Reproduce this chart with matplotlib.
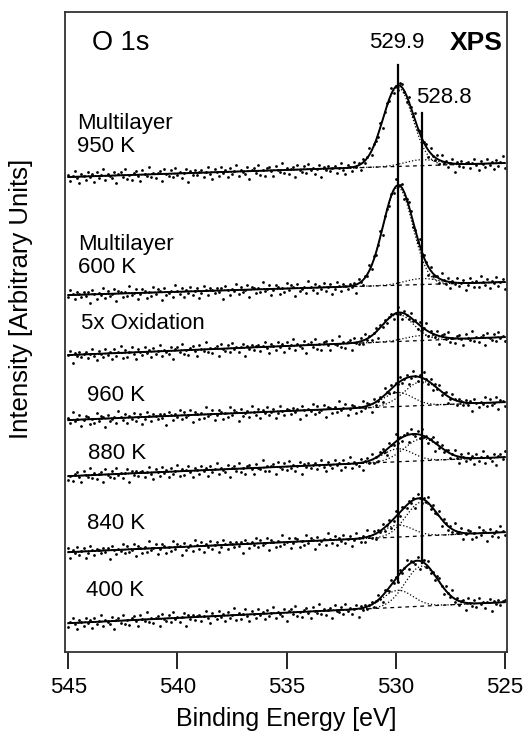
import numpy as np
import matplotlib.pyplot as plt

plt.rcParams['font.family'] = ['Liberation Sans', 'DejaVu Sans']

# spectrum labels (top to bottom) and where they sit
labels = ['Multilayer\n950 K', 'Multilayer\n600 K', '5x Oxidation', '960 K', '880 K', '840 K', '400 K']
label_x = [544.6, 544.55, 544.4, 544.15, 544.1, 544.15, 544.2]
label_y = [597, 476, 409, 337, 279, 209, 142]

# linear background at 545 eV and 525 eV (arbitrary units)
base_left = [555, 437, 377, 312, 256, 180, 109]
base_right = [569, 450, 395, 330, 275, 200, 130]

# component peaks: 529.9 eV and 528.8 eV
peak_pos = [529.9, 528.8]
h_529 = [79, 98, 27, 14, 13, 12, 17]
h_528 = [6, 6, 5, 24, 22, 34, 40]
fwhm_529 = [1.6, 1.6, 1.7, 1.6, 1.6, 1.6, 1.6]
fwhm_528 = [1.8, 1.8, 1.8, 1.9, 1.9, 1.7, 1.8]

resid = [1.8, -3.2, 0.5, 4.1, -1.2, -5.0, 2.3, 0.1, -2.6, 3.7, -0.8, 1.4, -4.3, 2.9,
         -1.9, 0.6, 5.2, -3.6, 1.1, -0.4, -2.2, 3.0, -6.1, 0.9, 2.4, -1.5, 4.6, -2.9,
         0.3, -3.9, 1.7, 2.8, -0.7, -4.6, 3.4, 0.2, -1.1, 5.8, -2.4, 1.3, -3.1, 0.8,
         2.1, -5.4, 3.9, -0.2, -1.7, 2.6, -2.8, 4.4, -0.9, 1.0, -3.4, 0.4, 3.2, -6.5,
         1.6, -1.3, 2.0, -2.0, 0.7]

# vertical marker lines (bottom, top)
vline_y = [(150, 667), (169, 619)]

energy = np.arange(545.0, 524.95, -0.1)


def gauss(x, c, h, fw):
    s = fw / 2.3548
    return h * np.exp(-(x - c) ** 2 / (2 * s * s))


fig = plt.figure(figsize=(5.24, 7.32), dpi=100)
ax = fig.add_axes([0.124, 0.109, 0.8436, 0.8747])

for i in range(len(labels)):
    bg = base_left[i] + (base_right[i] - base_left[i]) * (545 - energy) / 20
    p1 = gauss(energy, peak_pos[0], h_529[i], fwhm_529[i])
    p2 = gauss(energy, peak_pos[1], h_528[i], fwhm_528[i])
    fit = bg + p1 + p2
    r = np.roll(np.resize(resid, len(energy)), 13 * i) * 1.3
    if i % 2:
        r = r[::-1]
    ax.plot(energy, fit + r, '.', color='black', ms=4, mew=0)
    ax.plot(energy, bg, '--', color='black', lw=0.9, dashes=(3, 3))
    ax.plot(energy, bg + p1, ':', color='black', lw=0.9)
    ax.plot(energy, bg + p2, ':', color='black', lw=0.9)
    ax.plot(energy, fit, '-', color='black', lw=1.4)
    ax.text(label_x[i], label_y[i], labels[i], fontsize=16, va='center', ha='left',
            linespacing=1.15)

for pos, (y0, y1) in zip(peak_pos, vline_y):
    ax.plot([pos, pos], [y0, y1], '-', color='black', lw=1.6)

ax.text(529.94, 689, '529.9', fontsize=16, ha='center', va='center')
ax.text(527.79, 634, '528.8', fontsize=16, ha='center', va='center')
ax.text(543.9, 689, 'O 1s', fontsize=19.5, ha='left', va='center')
ax.text(525.09, 689, 'XPS', fontsize=19, fontweight='bold', ha='right', va='center')

ax.set_xlim(545.15, 524.9)
ax.set_ylim(80, 720)
ax.set_xticks([545, 540, 535, 530, 525])
ax.set_yticks([])
ax.tick_params(axis='x', direction='out', length=12, width=1.2, labelsize=16, pad=6)
for sp in ax.spines.values():
    sp.set_linewidth(1.3)
    sp.set_color('#333333')
ax.set_xlabel('Binding Energy [eV]', fontsize=18, labelpad=6)
ax.set_ylabel('Intensity [Arbitrary Units]', fontsize=18.5)
ax.yaxis.set_label_coords(-0.072, 0.5516)

fig.savefig('out.png', dpi=100)
